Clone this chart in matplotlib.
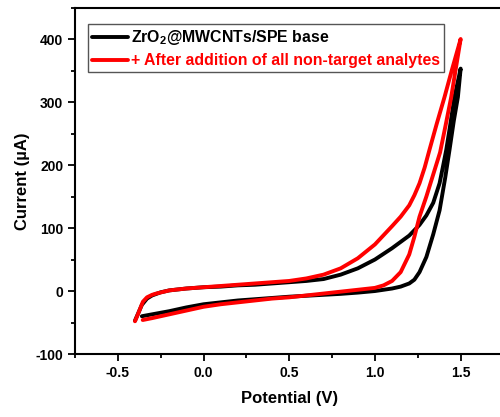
import numpy as np
import matplotlib.pyplot as plt

plt.rcParams['font.family'] = ['Liberation Sans', 'DejaVu Sans']
plt.rcParams['font.weight'] = 'bold'
plt.rcParams['axes.unicode_minus'] = False
plt.rcParams['mathtext.fontset'] = 'custom'
plt.rcParams['mathtext.bf'] = 'Liberation Sans:bold'
plt.rcParams['mathtext.rm'] = 'Liberation Sans:bold'

# ZrO2@MWCNTs/SPE base: forward (lower) sweep then reverse (upper) sweep
base_fwd_v = [-0.36, -0.3, -0.2, -0.1, 0.0, 0.1, 0.2, 0.3, 0.4, 0.5, 0.6, 0.7, 0.8, 0.9,
              1.0, 1.1, 1.15, 1.2, 1.23, 1.26, 1.3, 1.34, 1.377, 1.41, 1.435, 1.46, 1.484, 1.5]
base_fwd_i = [-40, -37, -32, -26, -21, -18, -15, -13, -11, -9, -7.5, -6, -4.5, -2.5,
              0, 4, 7, 12, 18, 30, 54, 90, 128, 180, 224, 270, 308, 353]
base_rev_v = [1.5, 1.464, 1.44, 1.416, 1.395, 1.377, 1.34, 1.3, 1.26, 1.2, 1.1, 1.0, 0.9,
              0.8, 0.7, 0.6, 0.5, 0.4, 0.3, 0.2, 0.1, 0.0, -0.1, -0.2, -0.25, -0.3,
              -0.33, -0.36, -0.4]
base_rev_i = [353, 308, 265, 224, 195, 171, 140, 120, 105, 88, 68, 50, 36,
              26, 19, 16, 14, 12, 10, 9, 7, 6, 4, 1, -2, -7,
              -12, -22, -47]

# + after addition of all non-target analytes
add_fwd_v = [-0.355, -0.3, -0.2, -0.1, 0.0, 0.1, 0.2, 0.3, 0.4, 0.5, 0.6, 0.7, 0.8, 0.9,
             1.0, 1.05, 1.1, 1.15, 1.2, 1.23, 1.26, 1.3, 1.34, 1.38, 1.41, 1.445, 1.47, 1.5]
add_fwd_i = [-46, -43, -37, -31, -25, -21, -18, -15, -12, -10, -7, -4, -1, 2,
             5, 9, 16, 30, 58, 86, 118, 150, 185, 220, 260, 308, 350, 400]
add_rev_v = [1.5, 1.45, 1.406, 1.36, 1.318, 1.29, 1.26, 1.23, 1.2, 1.15, 1.1, 1.0, 0.9,
             0.8, 0.7, 0.6, 0.5, 0.4, 0.3, 0.2, 0.1, 0.0, -0.1, -0.2, -0.276, -0.3,
             -0.33, -0.354, -0.38, -0.4]
add_rev_i = [400, 352, 308, 265, 224, 196, 171, 152, 136, 118, 103, 74, 52,
             36, 26, 20, 16, 14, 12, 10, 8, 6, 4, 1, -4, -6,
             -10, -17, -35, -48]

fig = plt.figure(figsize=(5.0, 4.17), dpi=100)
ax = fig.add_axes([0.15, 0.151, 0.857, 0.831])

ax.plot(base_fwd_v + base_rev_v, base_fwd_i + base_rev_i, color='black', lw=2.8,
        label=r'ZrO$_\mathbf{2}$@MWCNTs/SPE base', solid_capstyle='round',
        solid_joinstyle='round')
ax.plot(add_fwd_v + add_rev_v, add_fwd_i + add_rev_i, color='red', lw=2.8,
        label='+ After addition of all non-target analytes', solid_capstyle='round',
        solid_joinstyle='round')

ax.set_xlim(-0.75, 1.75)
ax.set_ylim(-100, 450)
ax.set_xticks([-0.5, 0.0, 0.5, 1.0, 1.5])
ax.set_xticks(np.arange(-0.75, 1.76, 0.25), minor=True)
ax.set_yticks([-100, 0, 100, 200, 300, 400])
ax.set_yticks(np.arange(-100, 451, 50), minor=True)
ax.tick_params(which='major', direction='out', length=5, width=1.3, labelsize=10)
ax.tick_params(which='minor', direction='out', length=3, width=1.3)
for s in ax.spines.values():
    s.set_linewidth(1.5)

ax.set_xlabel('Potential (V)', fontsize=12, fontweight='bold', labelpad=8)
ax.set_ylabel('Current (\u00b5A)', fontsize=12, fontweight='bold', labelpad=4)

leg = ax.legend(loc='upper left', bbox_to_anchor=(0.03, 0.952), fontsize=11.4,
                handlelength=2.3, handletextpad=0.2, borderpad=0.25, borderaxespad=0,
                labelspacing=0.4, fancybox=False, framealpha=1, edgecolor='#555555')
leg.get_frame().set_linewidth(1.0)
for txt, c in zip(leg.get_texts(), ['black', 'red']):
    txt.set_color(c)

fig.savefig('out.png', dpi=100)
